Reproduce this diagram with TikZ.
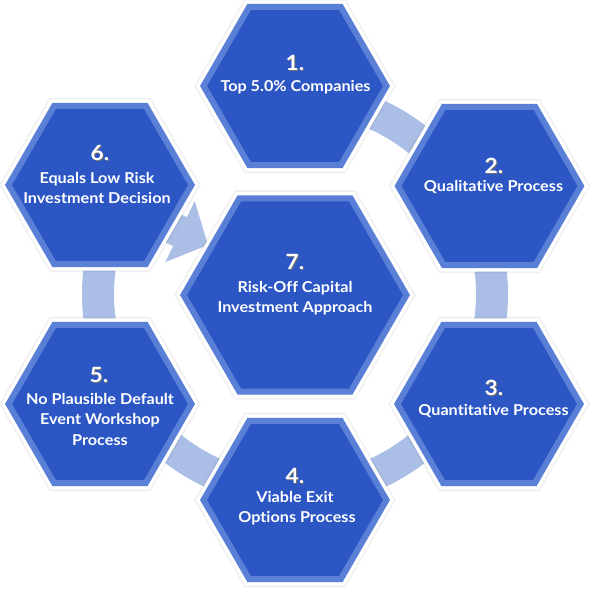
\documentclass[tikz,border=0pt]{standalone}
\usepackage{fontspec}
\setmainfont{Lato}[FakeStretch=1.08, Ligatures=NoCommon]
\usetikzlibrary{arrows.meta,calc}
\definecolor{hexfill}{HTML}{2B56C4}
\definecolor{hexedge}{HTML}{5A7FD6}
\definecolor{bandcol}{HTML}{AABEE6}
\definecolor{numshadow}{HTML}{707070}
\newcommand\hexagonat[3]{\path[#1,shift={(#2)}] (0:#3) -- (60:#3) -- (120:#3) -- (180:#3) -- (240:#3) -- (300:#3) -- cycle;}
\begin{document}
\begin{tikzpicture}[x=1pt,y=1pt,
  lbl/.style={text=white, font=\fontsize{15}{17}\selectfont\bfseries, anchor=base, inner sep=0pt},
  num/.style={text=white, font=\fontsize{21}{23}\selectfont\bfseries, anchor=base, inner sep=0pt},
  numsh/.style={num, text=numshadow},
  bandline/.style={draw=bandcol, line width=32pt},
]
\useasboundingbox (0,0) rectangle (600,600);
\coordinate (c1) at (295,514);
\coordinate (c2) at (489.5,414);
\coordinate (c3) at (489,196);
\coordinate (c4) at (295,100);
\coordinate (c5) at (100,196);
\coordinate (c6) at (100,415);
\coordinate (c7) at (295,305);
\coordinate (ringc) at (295,306);
\coordinate (tip) at (208,355);
% ring band with arrow into the centre
\draw[bandline, -{Triangle[width=66pt,length=31pt]}]
  ($(ringc)+(95:197)$) arc[start angle=95, end angle=-188, radius=197]
  .. controls +(82:40) and +(154.3:87) .. (tip);
% shadows
\foreach \c/\r in {c1/95,c2/95,c3/95,c4/95,c5/95,c6/95,c7/115}{
  \foreach \k in {0,...,5}{
    \pgfmathsetmacro\rr{\r+6-\k*1.2}
    \hexagonat{fill=black, fill opacity=0.04, xshift=3pt, yshift=-4pt}{\c}{\rr}
  }
}
% halos
\foreach \c/\r in {c1/95,c2/95,c3/95,c4/95,c5/95,c6/95,c7/115}{
  \pgfmathsetmacro\rr{\r+4}
  \hexagonat{fill=white}{\c}{\rr}
}
% hexagons
\foreach \c/\r in {c1/95,c2/95,c3/95,c4/95,c5/95,c6/95,c7/115}{
  \pgfmathsetmacro\rr{\r-3.5}
  \hexagonat{fill=hexfill, draw=hexedge, line width=6pt, line join=miter}{\c}{\rr}
}
% numbers
\foreach \n/\x/\y in {1/295/529.3, 2/494/426.7, 3/494/204, 4/295/116.7, 5/99/217, 6/100/439.3, 7/295/330}{
  \node[numsh] (n\n s) at (\x+0.8,\y-0.8) {\n.};
  \node[num] (n\n) at (\x,\y) {\n.};
}
% labels
\node[lbl] (t1) at (295.5,508) {Top 5.0\% Companies};
\node[lbl] (t2) at (493.5,408.3) {Qualitative Process};
\node[lbl] (t3) at (493.5,184) {Quantitative Process};
\node[lbl] (t4a) at (295,97.3) {Viable Exit};
\node[lbl] (t4b) at (297,77) {Options Process};
\node[lbl] (t5a) at (100,195.7) {No Plausible Default};
\node[lbl] (t5b) at (100,175) {Event Workshop};
\node[lbl] (t5c) at (100,154.3) {Process};
\node[lbl] (t6a) at (97,416.7) {Equals Low Risk};
\node[lbl] (t6b) at (97,396.7) {Investment Decision};
\node[lbl] (t7a) at (295,307.7) {Risk-Off Capital};
\node[lbl] (t7b) at (295,287.3) {Investment Approach};
\end{tikzpicture}
\end{document}
